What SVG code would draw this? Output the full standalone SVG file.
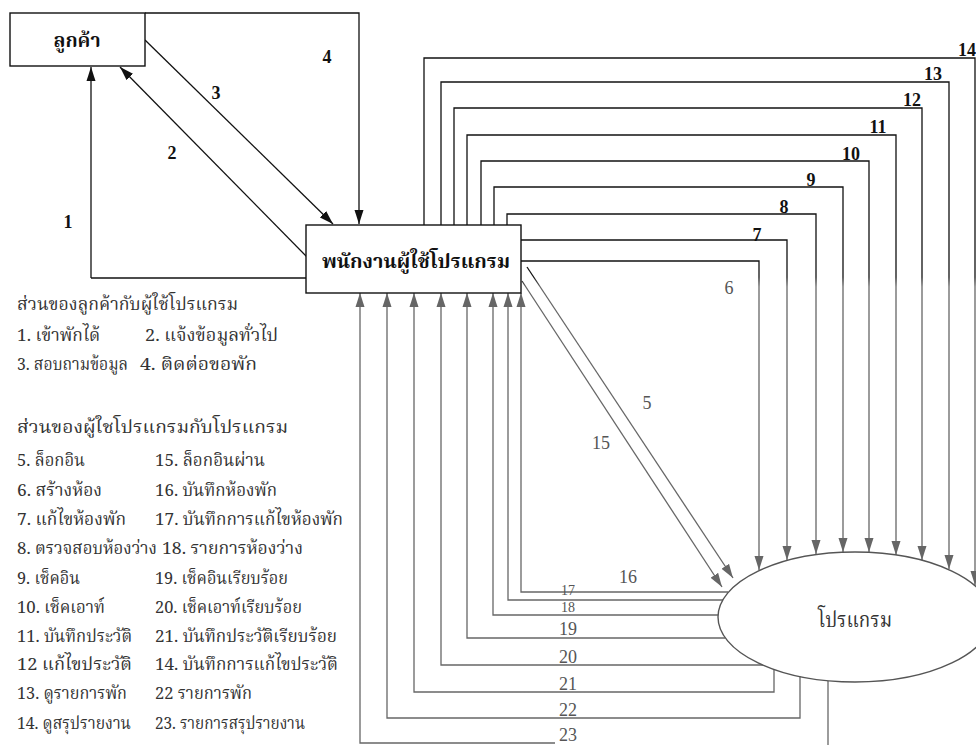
<svg xmlns="http://www.w3.org/2000/svg" width="976" height="745" viewBox="0 0 976 745">
<defs>
<style>
.box{fill:#fff;stroke:#111;stroke-width:1.4}
.ell{fill:#fff;stroke:#555;stroke-width:1.4}
.c{fill:none;stroke:#111;stroke-width:1.3}
.g{fill:none;stroke:url(#fade);stroke-width:1.3}
.th{font-family:"Noto Serif Thai","Noto Sans Thai","Loma","Garuda","Tlwg Typo","DejaVu Sans",serif}
.node{font-size:19px;font-weight:bold;fill:#111;text-anchor:middle}
.leg{font-size:17px;fill:#333}
.n{font-family:"Liberation Serif","Times New Roman",serif;font-size:18px;text-anchor:middle}
.nb{font-weight:bold;fill:#111}
.ng{fill:#555}
.sm{font-size:14px}
</style>
<linearGradient id="fade" gradientUnits="userSpaceOnUse" x1="0" y1="0" x2="0" y2="745">
<stop offset="0" stop-color="#111"/>
<stop offset="0.372" stop-color="#111"/>
<stop offset="0.385" stop-color="#666"/>
<stop offset="1" stop-color="#666"/>
</linearGradient>
<marker id="ab" markerUnits="userSpaceOnUse" markerWidth="14" markerHeight="10" refX="14" refY="5" orient="auto">
<path d="M0,0.5 L14,5 L0,9.5 z" fill="#111"/>
</marker>
<marker id="ag" markerUnits="userSpaceOnUse" markerWidth="14" markerHeight="10" refX="14" refY="5" orient="auto">
<path d="M0,0.5 L14,5 L0,9.5 z" fill="#666"/>
</marker>
</defs>
<rect width="976" height="745" fill="#fff"/>

<g id="connectors">
<path class="c" d="M91,278 H307" />
<path class="c" d="M91,278 V67" marker-end="url(#ab)"/>
<path class="c" d="M307,257 L120,67" marker-end="url(#ab)"/>
<path class="c" d="M145,40 L333,224" marker-end="url(#ab)"/>
<path class="c" d="M145,13 H359 V224" marker-end="url(#ab)"/>

<path class="g" d="M527,267 L733,578" marker-end="url(#ag)"/>
<path class="g" d="M522,281 L722,587" marker-end="url(#ag)"/>

<path class="g" d="M521,261 H759 V570" marker-end="url(#ag)"/>
<path class="g" d="M521,240 H787 V560" marker-end="url(#ag)"/>
<path class="g" d="M507,225 V214 H816 V554" marker-end="url(#ag)"/>
<path class="g" d="M494,225 V187 H843 V552" marker-end="url(#ag)"/>
<path class="g" d="M481,225 V161 H869 V552" marker-end="url(#ag)"/>
<path class="g" d="M467,225 V135 H896 V555" marker-end="url(#ag)"/>
<path class="g" d="M454,225 V108 H922 V560" marker-end="url(#ag)"/>
<path class="g" d="M441,225 V82 H949 V569" marker-end="url(#ag)"/>
<path class="g" d="M424,225 V58 H975 V585" marker-end="url(#ag)"/>

<path class="g" d="M728,592 H521 V293" marker-end="url(#ag)"/>
<path class="g" d="M723,600 H508 V293" marker-end="url(#ag)"/>
<path class="g" d="M718,615 H493 V293" marker-end="url(#ag)"/>
<path class="g" d="M725,638 H467 V293" marker-end="url(#ag)"/>
<path class="g" d="M763,665 H441 V293" marker-end="url(#ag)"/>
<path class="g" d="M774,669 V692 H414 V293" marker-end="url(#ag)"/>
<path class="g" d="M800,676 V718 H387 V293" marker-end="url(#ag)"/>
<path class="g" d="M828,681 V745" />
<path class="g" d="M555,743 H360 V293" marker-end="url(#ag)"/>
</g>

<g id="customer">
<rect class="box" x="10" y="13" width="135" height="53"/>
<text class="th node" x="77" y="47" textLength="47" lengthAdjust="spacingAndGlyphs">ลูกค้า</text>
</g>

<g id="employee">
<rect class="box" x="306" y="225" width="215" height="68"/>
<text class="th node" x="416" y="268" textLength="188" lengthAdjust="spacingAndGlyphs">พนักงานผู้ใช้โปรแกรม</text>
</g>

<g id="program">
<ellipse class="ell" cx="855" cy="617" rx="137" ry="65"/>
<text class="th" x="855" y="627" font-size="21" fill="#333" text-anchor="middle" textLength="74" lengthAdjust="spacingAndGlyphs">โปรแกรม</text>
</g>

<g id="labels">
<text class="n nb" x="327" y="63">4</text>
<text class="n nb" x="216" y="99">3</text>
<text class="n nb" x="172" y="159">2</text>
<text class="n nb" x="68" y="228">1</text>
<text class="n nb" x="967" y="56">14</text>
<text class="n nb" x="933" y="80">13</text>
<text class="n nb" x="912" y="106">12</text>
<text class="n nb" x="878" y="133">11</text>
<text class="n nb" x="851" y="160">10</text>
<text class="n nb" x="811" y="186">9</text>
<text class="n nb" x="784" y="213">8</text>
<text class="n nb" x="757" y="241">7</text>
<text class="n ng" x="729" y="294">6</text>
<text class="n ng" x="647" y="409">5</text>
<text class="n ng" x="601" y="449">15</text>
<text class="n ng" x="628" y="583">16</text>
<text class="n ng sm" x="568" y="595">17</text>
<text class="n ng sm" x="568" y="612">18</text>
<text class="n ng" x="568" y="635">19</text>
<text class="n ng" x="568" y="663">20</text>
<text class="n ng" x="568" y="690">21</text>
<text class="n ng" x="568" y="716">22</text>
<text class="n ng" x="568" y="741">23</text>
</g>

<g id="legend" class="th leg">
<text x="17" y="310" textLength="221" lengthAdjust="spacingAndGlyphs">ส่วนของลูกค้ากับผู้ใช้โปรแกรม</text>
<text x="17" y="341" textLength="83" lengthAdjust="spacingAndGlyphs">1. เข้าพักได้</text>
<text x="145" y="341" textLength="133" lengthAdjust="spacingAndGlyphs">2. แจ้งข้อมูลทั่วไป</text>
<text x="17" y="370" textLength="111" lengthAdjust="spacingAndGlyphs">3. สอบถามข้อมูล</text>
<text x="140" y="370" textLength="117" lengthAdjust="spacingAndGlyphs">4. ติดต่อขอพัก</text>
<text x="17" y="433" textLength="271" lengthAdjust="spacingAndGlyphs">ส่วนของผู้ใชโปรแกรมกับโปรแกรม</text>
<text x="17" y="466" textLength="68" lengthAdjust="spacingAndGlyphs">5. ล็อกอิน</text>
<text x="155" y="466" textLength="110" lengthAdjust="spacingAndGlyphs">15.  ล็อกอินผ่าน</text>
<text x="17" y="496" textLength="85" lengthAdjust="spacingAndGlyphs">6. สร้างห้อง</text>
<text x="155" y="496" textLength="122" lengthAdjust="spacingAndGlyphs">16. บันทึกห้องพัก</text>
<text x="17" y="525" textLength="109" lengthAdjust="spacingAndGlyphs">7. แก้ไขห้องพัก</text>
<text x="155" y="525" textLength="188" lengthAdjust="spacingAndGlyphs">17. บันทึกการแก้ไขห้องพัก</text>
<text x="17" y="554" textLength="140" lengthAdjust="spacingAndGlyphs">8. ตรวจสอบห้องว่าง</text>
<text x="162" y="554" textLength="141" lengthAdjust="spacingAndGlyphs">18. รายการห้องว่าง</text>
<text x="17" y="584" textLength="63" lengthAdjust="spacingAndGlyphs">9. เช็คอิน</text>
<text x="155" y="584" textLength="133" lengthAdjust="spacingAndGlyphs">19. เช็คอินเรียบร้อย</text>
<text x="17" y="613" textLength="88" lengthAdjust="spacingAndGlyphs">10. เช็คเอาท์</text>
<text x="155" y="613" textLength="147" lengthAdjust="spacingAndGlyphs">20. เช็คเอาท์เรียบร้อย</text>
<text x="17" y="642" textLength="115" lengthAdjust="spacingAndGlyphs">11. บันทึกประวัติ</text>
<text x="155" y="642" textLength="182" lengthAdjust="spacingAndGlyphs">21. บันทึกประวัติเรียบร้อย</text>
<text x="17" y="670" textLength="115" lengthAdjust="spacingAndGlyphs">12 แก้ไขประวัติ</text>
<text x="155" y="670" textLength="183" lengthAdjust="spacingAndGlyphs">14. บันทึกการแก้ไขประวัติ</text>
<text x="17" y="699" textLength="110" lengthAdjust="spacingAndGlyphs">13. ดูรายการพัก</text>
<text x="155" y="699" textLength="97" lengthAdjust="spacingAndGlyphs">22 รายการพัก</text>
<text x="17" y="729" textLength="114" lengthAdjust="spacingAndGlyphs">14. ดูสรุปรายงาน</text>
<text x="155" y="729" textLength="150" lengthAdjust="spacingAndGlyphs">23. รายการสรุปรายงาน</text>
</g>
</svg>
